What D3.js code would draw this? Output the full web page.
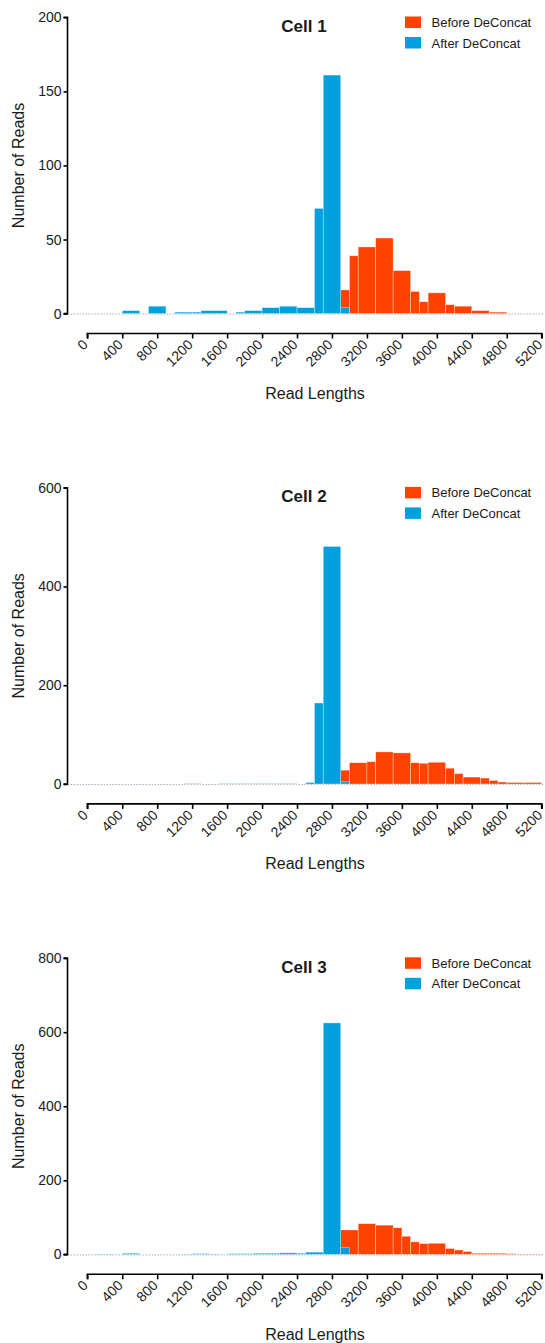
<!DOCTYPE html>
<html>
<head>
<meta charset="utf-8">
<script src="https://cdn.jsdelivr.net/npm/d3@7"></script>
<style>
  body { margin: 0; background: #fff; }
  svg { display: block; }
  text { font-family: "Liberation Sans", Arial, Helvetica, sans-serif; fill: #1a1a1a; }
  .title { font-size: 17px; font-weight: bold; }
  .tick-label { font-size: 14px; }
  .axis-title { font-size: 16px; }
  .legend { font-size: 13px; }
</style>
</head>
<body>
<svg></svg>
<script>
// bin edges (read length) and counts, one set per cell and series
const cellNames = ["Cell 1", "Cell 2", "Cell 3"]
const seriesNames = ["Before DeConcat", "After DeConcat"]

const cell1BeforeEdges = [2900, 3000, 3100, 3300, 3500, 3700, 3800, 3900, 4100, 4200, 4400, 4600, 4800]
const cell1BeforeCounts = [16, 39, 45, 51, 29, 15, 8, 14, 6, 5, 2, 1]
const cell1AfterEdges = [400, 600, 700, 900, 1000, 1200, 1300, 1600, 1700, 1800, 2000, 2200, 2400, 2600, 2700, 2900, 3000]
const cell1AfterCounts = [2, 0, 5, 0, 1, 1, 2, 0, 1, 2, 4, 5, 4, 71, 161, 4]

const cell2BeforeEdges = [2900, 3000, 3200, 3300, 3500, 3700, 3800, 3900, 4100, 4200, 4300, 4500, 4600, 4700, 4800, 5000, 5200]
const cell2BeforeCounts = [28, 43, 45, 65, 63, 43, 42, 44, 32, 21, 14, 12, 7, 4, 3, 3]
const cell2AfterEdges = [1100, 1300, 1500, 1700, 1900, 2200, 2400, 2500, 2600, 2700, 2900, 3000]
const cell2AfterCounts = [1, 0, 1, 1, 1, 1, 0, 3, 164, 481, 5]

const cell3BeforeEdges = [2900, 3100, 3300, 3500, 3600, 3700, 3800, 3900, 4100, 4200, 4300, 4400, 4800, 4900, 5200]
const cell3BeforeCounts = [66, 83, 79, 72, 49, 34, 29, 30, 16, 12, 8, 3, 2, 1]
const cell3AfterEdges = [100, 300, 400, 600, 1100, 1200, 1400, 1500, 1600, 1900, 2200, 2400, 2500, 2700, 2900, 3000]
const cell3AfterCounts = [1, 0, 3, 0, 1, 2, 1, 0, 2, 3, 4, 3, 6, 625, 19]

const yMax = [200, 600, 800]
const yTickStep = [50, 200, 200]
const xTicks = d3.range(0, 5201, 400)

const colors = { before: "#ff4200", after: "#00a0dc" }

const cells = [
  { before: [cell1BeforeEdges, cell1BeforeCounts], after: [cell1AfterEdges, cell1AfterCounts] },
  { before: [cell2BeforeEdges, cell2BeforeCounts], after: [cell2AfterEdges, cell2AfterCounts] },
  { before: [cell3BeforeEdges, cell3BeforeCounts], after: [cell3AfterEdges, cell3AfterCounts] }
]

const toBins = ([edges, counts]) => counts
  .map((c, i) => ({ x0: edges[i], x1: edges[i + 1], n: c }))
  .filter(d => d.n > 0)

const svg = d3.select("svg")
  .attr("width", 545)
  .attr("height", 1343)

const x = d3.scaleLinear()
  .domain([0, 5200])
  .range([87.3, 541.7])

const panelTop = 17.3
const panelBottom = 313.6
const yAxisX = 67.5
const xAxisY = 333.5

cells.forEach((cell, ci) => {
  const g = svg.append("g")
    .attr("transform", `translate(0, ${ci * 470.4})`)

  const y = d3.scaleLinear()
    .domain([0, yMax[ci]])
    .range([panelBottom, panelTop])

  // dotted baseline
  g.append("line")
    .attr("x1", yAxisX)
    .attr("x2", 544)
    .attr("y1", y(0) + 0.5)
    .attr("y2", y(0) + 0.5)
    .attr("stroke", "#9fb3c4")
    .attr("stroke-width", 1)
    .attr("stroke-dasharray", "1.5,1.5")

  // bars: before first, after drawn on top
  ;[["before", cell.before], ["after", cell.after]].forEach(([key, series]) => {
    g.append("g")
      .selectAll("rect")
      .data(toBins(series))
      .enter()
      .append("rect")
      .attr("x", d => x(d.x0))
      .attr("width", d => x(d.x1) - x(d.x0))
      .attr("y", d => y(d.n))
      .attr("height", d => y(0) - y(d.n))
      .attr("fill", colors[key])
      .attr("stroke", "#ffffff")
      .attr("stroke-opacity", 0.55)
      .attr("stroke-width", 0.6)
  })

  // y axis
  const yAxis = d3.axisLeft(y)
    .tickValues(d3.range(0, yMax[ci] + 1, yTickStep[ci]))
    .tickFormat(d3.format("d"))
    .tickSize(4)
    .tickPadding(2)

  const ya = g.append("g")
    .attr("transform", `translate(${yAxisX}, 0)`)
    .call(yAxis)
  ya.select(".domain").attr("stroke", "#000").attr("stroke-width", 1.6)
    .attr("d", `M-4,${panelTop}H0V${panelBottom}H-4`)
  ya.selectAll(".tick line").attr("stroke", "#000").attr("stroke-width", 1.6)
  ya.selectAll(".tick text").attr("class", "tick-label").attr("fill", "#1a1a1a")

  // x axis
  const xAxis = d3.axisBottom(x)
    .tickValues(xTicks)
    .tickFormat(d3.format("d"))
    .tickSize(5)

  const xa = g.append("g")
    .attr("transform", `translate(0, ${xAxisY})`)
    .call(xAxis)
  xa.select(".domain").attr("stroke", "#000").attr("stroke-width", 1.6)
    .attr("d", `M${x(0)},5V0H${x(5200)}V5`)
  xa.selectAll(".tick line").attr("stroke", "#000").attr("stroke-width", 1.6)
  xa.selectAll(".tick text")
    .attr("class", "tick-label")
    .attr("fill", "#1a1a1a")
    .attr("text-anchor", "end")
    .attr("dy", null)
    .attr("y", 0)
    .attr("transform", "translate(1, 12) rotate(-45)")

  // axis titles
  g.append("text")
    .attr("class", "axis-title")
    .attr("x", 315)
    .attr("y", 399)
    .attr("text-anchor", "middle")
    .text("Read Lengths")

  g.append("text")
    .attr("class", "axis-title")
    .attr("transform", `translate(24, ${(panelTop + panelBottom) / 2}) rotate(-90)`)
    .attr("text-anchor", "middle")
    .text("Number of Reads")

  // title
  g.append("text")
    .attr("class", "title")
    .attr("x", 304)
    .attr("y", 32)
    .attr("text-anchor", "middle")
    .text(cellNames[ci])

  // legend
  const legend = g.selectAll("g.legend-item")
    .data(seriesNames)
    .enter()
    .append("g")
    .attr("class", "legend-item")
    .attr("transform", (d, i) => `translate(405, ${16.5 + i * 20.5})`)

  legend.append("rect")
    .attr("width", 16)
    .attr("height", 11.5)
    .attr("fill", (d, i) => i === 0 ? colors.before : colors.after)

  legend.append("text")
    .attr("class", "legend")
    .attr("x", 26.5)
    .attr("y", 10.5)
    .text(d => d)
})
</script>
</body>
</html>
